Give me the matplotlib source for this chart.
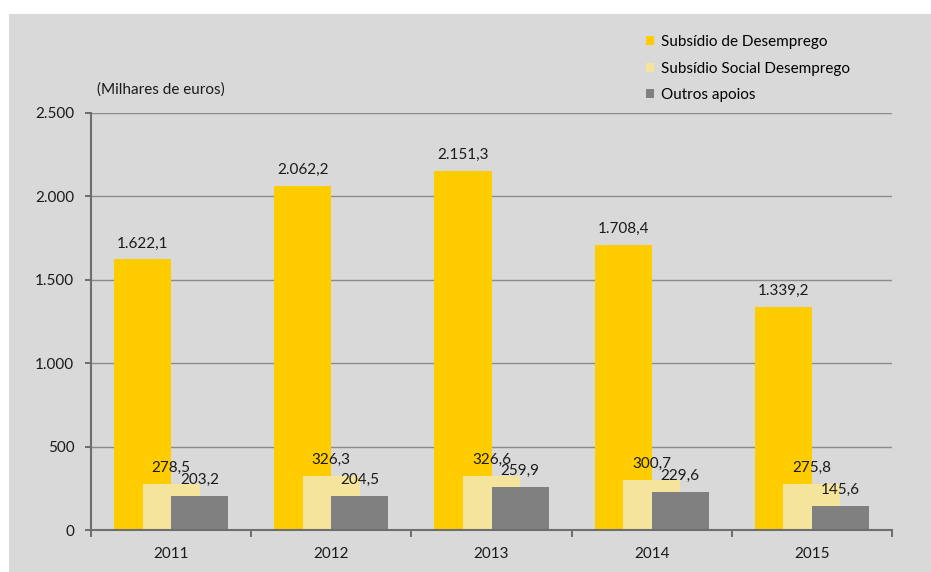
import matplotlib.pyplot as plt
from matplotlib.patches import Rectangle, Patch
import numpy as np

plt.rcParams['font.family'] = ['Lato', 'DejaVu Sans']

# Anos e valores (milhares de euros)
years = ['2011', '2012', '2013', '2014', '2015']
subsidio_desemprego = [1622.1, 2062.2, 2151.3, 1708.4, 1339.2]
subsidio_social = [278.5, 326.3, 326.6, 300.7, 275.8]
outros_apoios = [203.2, 204.5, 259.9, 229.6, 145.6]

series_names = ['Subsídio de Desemprego', 'Subsídio Social Desemprego', 'Outros apoios']
colors = ['#FFCC00', '#F5E49C', '#808080']
yticks = [0, 500, 1000, 1500, 2000, 2500]
FS = 11


def pt_format(v, decimals=1):
    s = f'{v:,.{decimals}f}'
    return s.replace(',', 'X').replace('.', ',').replace('X', '.')


fig = plt.figure(figsize=(9.31, 5.72), dpi=100, facecolor='white')
# fundo cinzento
fig.patches.append(Rectangle((9 / 931, 0), 1, 1 - 14 / 572, transform=fig.transFigure,
                             facecolor='#D9D9D9', edgecolor='none', zorder=-10))

ax = fig.add_axes([91 / 931, 1 - 530 / 572, (892 - 91) / 931, (530 - 113) / 572])
ax.set_facecolor('none')

x = np.arange(len(years))
width = 0.356
step = 0.178
all_series = [subsidio_desemprego, subsidio_social, outros_apoios]
for i, (vals, col) in enumerate(zip(all_series, colors)):
    pos = x + (i - 1) * step
    ax.bar(pos, vals, width=width, color=col, zorder=2 + i)
    for px_, v in zip(pos, vals):
        ax.annotate(pt_format(v), (px_, v), xytext=(0, 8.5), textcoords='offset points',
                    ha='center', va='baseline', fontsize=FS, color='#1a1a1a', zorder=10)

ax.set_xlim(-0.5, len(years) - 0.5)
ax.set_ylim(0, 2500)
ax.set_yticks(yticks)
ax.set_yticklabels([pt_format(t, 0) for t in yticks])
ax.yaxis.grid(True, color='#8C8C8C', linewidth=1.0, zorder=1)
ax.set_axisbelow(True)

ax.set_xticks(x)
ax.set_xticklabels(years)
ax.set_xticks(np.arange(len(years) + 1) - 0.5, minor=True)
ax.tick_params(axis='x', which='major', length=0, pad=12, labelsize=FS, labelcolor='#1a1a1a')
ax.tick_params(axis='x', which='minor', length=5, width=1.2, color='#595959', direction='out')
ax.tick_params(axis='y', length=4, width=1.2, color='#595959', pad=8, labelsize=FS,
               labelcolor='#1a1a1a')

for side in ['top', 'right']:
    ax.spines[side].set_visible(False)
for side in ['left', 'bottom']:
    ax.spines[side].set_color('#6E6E6E')
    ax.spines[side].set_linewidth(1.5)
    ax.spines[side].set_zorder(8)

fig.text(97 / 931, 1 - 90 / 572, '(Milhares de euros)', ha='left', va='center',
         fontsize=FS, color='#1a1a1a')

handles = [Patch(facecolor=c, edgecolor='none') for c in colors]
fig.legend(handles, series_names, loc='upper left', bbox_to_anchor=(646 / 931, 1 - 35 / 572),
           frameon=False, fontsize=FS, handlelength=0.55, handleheight=0.55,
           handletextpad=0.45, labelspacing=0.82, borderaxespad=0, borderpad=0)

fig.savefig('out.png', dpi=100, facecolor='white')
